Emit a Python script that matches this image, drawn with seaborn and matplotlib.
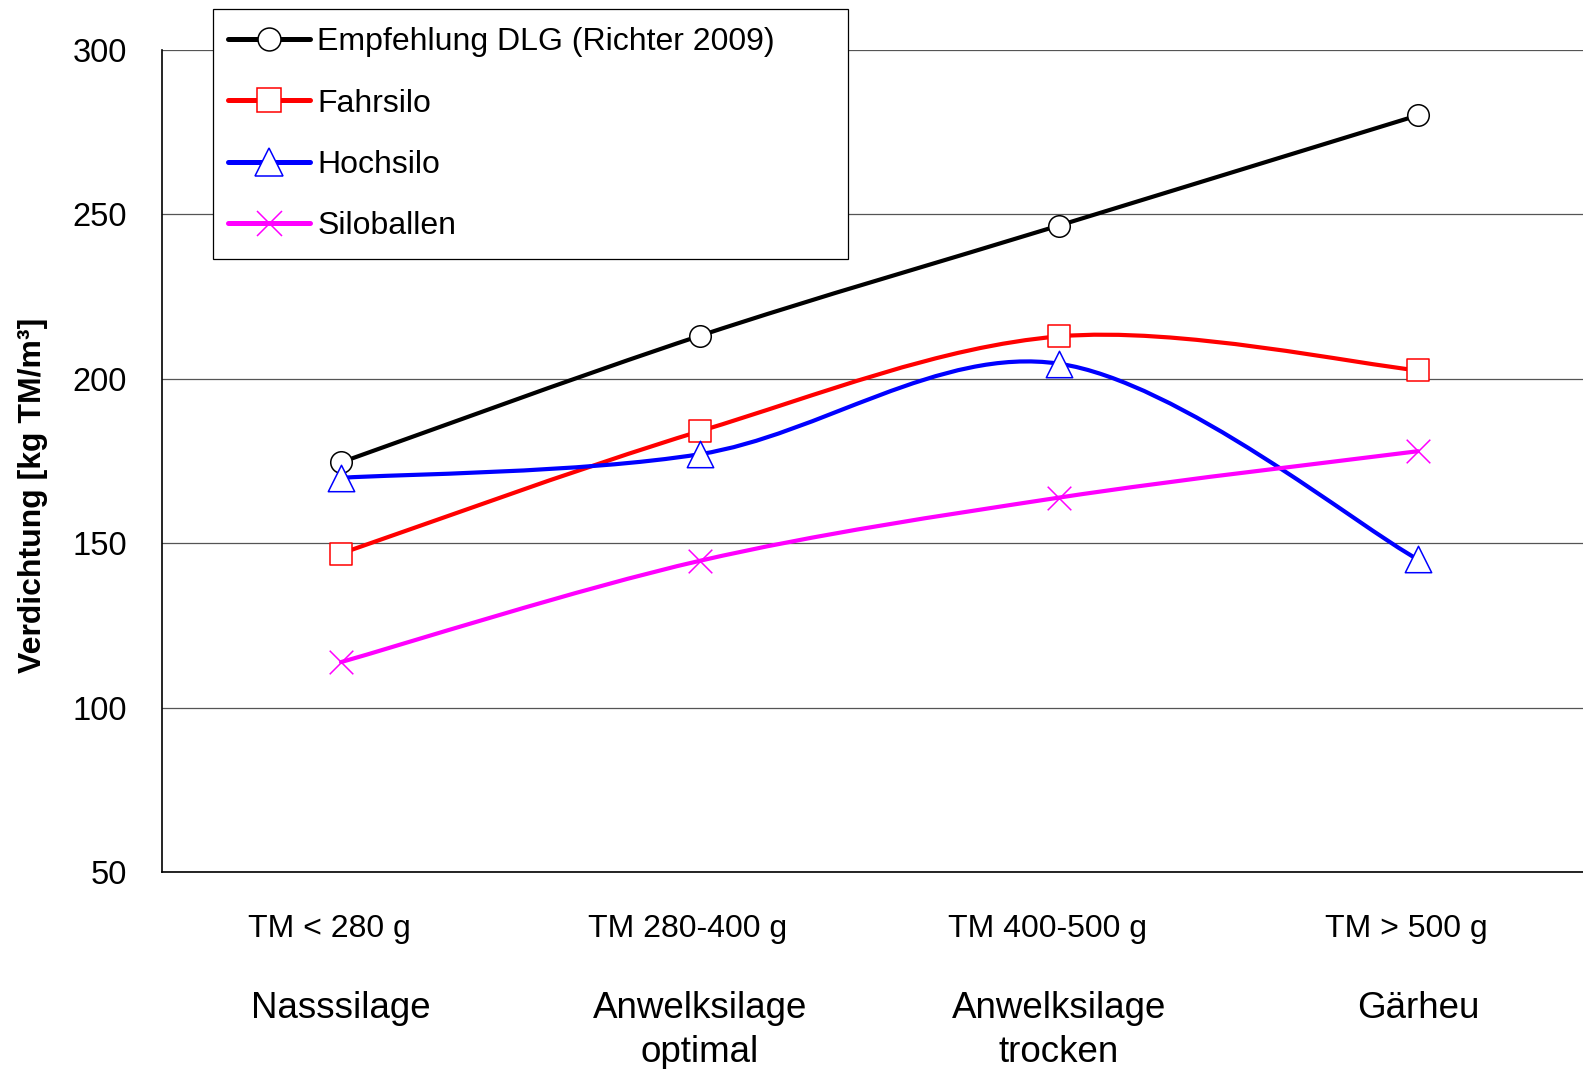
import numpy as np
import matplotlib
matplotlib.use("Agg")
import matplotlib.pyplot as plt
from matplotlib.path import Path
from matplotlib.patches import PathPatch
from matplotlib.lines import Line2D
import seaborn as sns

# data
categories = ["TM < 280 g", "TM 280-400 g", "TM 400-500 g", "TM > 500 g"]
groups = ["Nasssilage", "Anwelksilage\noptimal", "Anwelksilage\ntrocken", "Gärheu"]
series_names = ["Empfehlung DLG (Richter 2009)", "Fahrsilo", "Hochsilo", "Siloballen"]
dlg = [174.5, 213, 246.5, 280]
fahrsilo = [146.8, 184, 212.8, 202.5]
hochsilo = [169.8, 177, 204.5, 145]
siloballen = [113.8, 144.6, 163.8, 177.9]

colors = ["#000000", "#FF0000", "#0000FF", "#FF00FF"]
markers = ["o", "s", "^", "x"]
msizes = [15.5, 16, 19, 17]

sns.set_style("white")
plt.rcParams["font.family"] = ["Liberation Sans", "DejaVu Sans"]
for key in ["text.color", "axes.labelcolor", "xtick.color", "ytick.color"]:
    plt.rcParams[key] = "black"


def smooth_path(xs, ys):
    """Excel-style smoothed line: cubic Bezier through the points."""
    pts = np.column_stack([xs, ys]).astype(float)
    n = len(pts)
    verts = [pts[0]]
    codes = [Path.MOVETO]
    for i in range(n - 1):
        p_prev = pts[max(i - 1, 0)]
        p0, p1 = pts[i], pts[i + 1]
        p_next = pts[min(i + 2, n - 1)]
        c1 = p0 + (p1 - p_prev) / 6.0
        c2 = p1 - (p_next - p0) / 6.0
        verts += [c1, c2, p1]
        codes += [Path.CURVE4] * 3
    return Path(verts, codes)


fig = plt.figure(figsize=(15.83, 10.69), dpi=100)
ax = fig.add_axes([161.5 / 1583, 1 - 872 / 1069, 1 - 161.5 / 1583, (872 - 49.5) / 1069])

xpos = np.arange(len(categories)) + 0.5
handles = []
for name, vals, c, m, ms in zip(series_names, [dlg, fahrsilo, hochsilo, siloballen],
                                colors, markers, msizes):
    ax.add_patch(PathPatch(smooth_path(xpos, vals), facecolor="none",
                           edgecolor=c, lw=3, zorder=3, capstyle="round"))
    if m == "x":
        sns.scatterplot(x=xpos, y=vals, marker=m, s=ms ** 2, color=c,
                        linewidth=1.1, zorder=4, ax=ax)
    else:
        sns.scatterplot(x=xpos, y=vals, marker=m, s=ms ** 2, facecolor="white",
                        edgecolor=c, linewidth=1.1, zorder=4, ax=ax)
    handles.append(Line2D([], [], color=c, lw=3.6, marker=m, markersize=ms + 1,
                          markerfacecolor="white", markeredgecolor=c,
                          markeredgewidth=1.1, label=name))

ax.set_xlim(0, (1583 - 161.5) / 359)
ax.set_ylim(50, 300)
ax.set_yticks(np.arange(50, 301, 50))
ax.set_xticks(np.arange(0, 4))
ax.set_xticklabels([])
ax.yaxis.grid(True, color="#555555", lw=0.9)
ax.set_axisbelow(True)
for s in ["top", "right"]:
    ax.spines[s].set_visible(False)
for s in ["left", "bottom"]:
    ax.spines[s].set_color("black")
    ax.spines[s].set_linewidth(1.2)
ax.tick_params(axis="y", direction="out", length=8, width=0.9, color="black",
               pad=17, labelsize=23.5)
ax.tick_params(axis="x", direction="out", length=8, width=0.9, color="black")

for x, cat, grp in zip(xpos, categories, groups):
    ax.annotate(cat, xy=(x, 0), xycoords=("data", "axes fraction"),
                xytext=(-8.6, -41), textcoords="offset points",
                ha="center", va="center", fontsize=23)
    ax.annotate(grp, xy=(x, 0), xycoords=("data", "axes fraction"),
                xytext=(0, -85.5), textcoords="offset points",
                ha="center", va="top", fontsize=26.5, linespacing=1.36,
                multialignment="center")

fig.text(33 / 1583, 1 - 495 / 1069, "Verdichtung [kg TM/m³]", rotation=90,
         ha="center", va="center", fontsize=23, fontweight="bold")

leg = ax.legend(handles=handles, loc="upper left",
                bbox_to_anchor=(213 / 1583, 1 - 258 / 1069, (848 - 213) / 1583, (258 - 9) / 1069),
                bbox_transform=fig.transFigure, mode="expand", borderaxespad=0,
                fontsize=23, handlelength=2.55, handletextpad=0.15, labelspacing=0.98,
                borderpad=0.57, frameon=True, fancybox=False, framealpha=1,
                edgecolor="black")
leg.get_frame().set_linewidth(0.9)
leg.set_zorder(10)
for h in leg.legend_handles:
    h.set_transform(h.get_transform() + matplotlib.transforms.Affine2D().translate(-3, 0))

fig.savefig("out.png", dpi=100)
